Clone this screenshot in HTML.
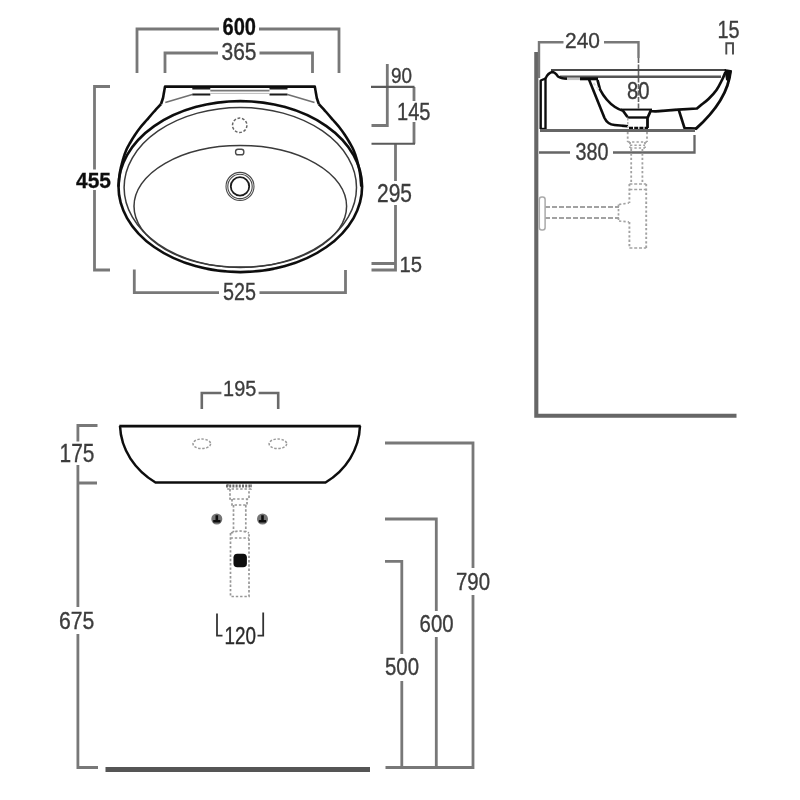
<!DOCTYPE html>
<html><head><meta charset="utf-8"><title>Washbasin technical drawing</title>
<style>
html,body{margin:0;padding:0;background:#fff;}
svg{display:block;font-family:"Liberation Sans",sans-serif;}
</style></head>
<body>
<svg width="800" height="800" viewBox="0 0 800 800">
<defs><filter id="soft" x="-2%" y="-2%" width="104%" height="104%"><feGaussianBlur stdDeviation="0.75"/></filter></defs>
<rect width="800" height="800" fill="#fff"/>
<g filter="url(#soft)">
<!-- plan view dimensions -->
<path d="M137,73 V29 H219 M259,29 H339 V73" stroke="#787878" stroke-width="2.8" fill="none" />
<text transform="translate(222.50,35.26) scale(0.8378,1)" font-size="23.94" font-weight="bold" fill="#111" stroke="#111" stroke-width="0.3">600</text>
<path d="M165,73 V53 H218 M259.5,53 H312.5 V73" stroke="#787878" stroke-width="2.8" fill="none" />
<text transform="translate(221.50,60.26) scale(0.8753,1)" font-size="23.94" fill="#3c3c3c" stroke="#3c3c3c" stroke-width="0.35">365</text>
<path d="M110,86.5 H94.5 V169.5 M94.5,190 V270 H110" stroke="#787878" stroke-width="2.8" fill="none" />
<text transform="translate(76.00,187.77) scale(0.9169,1)" font-size="22.86" font-weight="bold" fill="#111" stroke="#111" stroke-width="0.3">455</text>
<path d="M134.3,269.5 V292.7 H219 M259.5,292.7 H345.5 V270" stroke="#787878" stroke-width="2.8" fill="none" />
<text transform="translate(223.00,299.76) scale(0.8253,1)" font-size="23.94" fill="#3c3c3c" stroke="#3c3c3c" stroke-width="0.35">525</text>
<path d="M387.3,64 V125.5 H371.5 M414,87 V101 M414,122 V143.75 M395.5,143.75 V181 M395.5,205 V271.5 M371.5,263.5 H395.5 M371.5,270 H395.5" stroke="#787878" stroke-width="2.8" fill="none" />
<path d="M371,86.8 H414.5 M371.5,143.75 H415" stroke="#5a5a5a" stroke-width="2.2" fill="none" />
<text transform="translate(391.00,83.27) scale(0.8395,1)" font-size="22.54" fill="#3c3c3c" stroke="#3c3c3c" stroke-width="0.35">90</text>
<text transform="translate(397.00,120.26) scale(0.8260,1)" font-size="24.29" fill="#3c3c3c" stroke="#3c3c3c" stroke-width="0.35">145</text>
<text transform="translate(377.00,202.25) scale(0.8267,1)" font-size="25.35" fill="#3c3c3c" stroke="#3c3c3c" stroke-width="0.35">295</text>
<text transform="translate(399.50,272.27) scale(0.8868,1)" font-size="22.86" fill="#3c3c3c" stroke="#3c3c3c" stroke-width="0.35">15</text>
<!-- plan view basin -->
<ellipse cx="240.3" cy="186.6" rx="121.8" ry="85.5" stroke="#0c0c0c" stroke-width="2.6" fill="none" />
<path d="M161.00,104.00 C159.78,105.33 156.07,109.33 153.70,112.00 C151.32,114.67 148.98,117.42 146.75,120.00 C144.52,122.58 142.28,125.00 140.30,127.50 C138.33,130.00 136.57,132.50 134.90,135.00 C133.23,137.50 131.73,140.00 130.30,142.50 C128.87,145.00 127.53,147.12 126.30,150.00 C125.07,152.88 123.97,156.00 122.90,159.75 C121.83,163.50 120.63,168.03 119.90,172.50 C119.17,176.97 118.73,184.25 118.50,186.60" stroke="#0c0c0c" stroke-width="2.6" fill="none" />
<path d="M318.80,104.00 C320.02,105.33 323.73,109.33 326.10,112.00 C328.48,114.67 330.82,117.42 333.05,120.00 C335.28,122.58 337.52,125.00 339.50,127.50 C341.48,130.00 343.23,132.50 344.90,135.00 C346.57,137.50 348.07,140.00 349.50,142.50 C350.93,145.00 352.27,147.12 353.50,150.00 C354.73,152.88 355.83,156.00 356.90,159.75 C357.97,163.50 359.17,168.03 359.90,172.50 C360.63,176.97 361.07,184.25 361.30,186.60" stroke="#0c0c0c" stroke-width="2.6" fill="none" />
<path d="M161,104 L163,98 L165,86.6 H314.8 L316.8,98 L318.8,104" stroke="#0c0c0c" stroke-width="2.6" fill="none" stroke-linejoin="round"/>
<path d="M165.3,102.5 L192.3,94.5 M287.5,94.5 L314.5,102.5" stroke="#707070" stroke-width="1.6" fill="none" />
<path d="M192.3,94.5 H210.3 M269.5,94.5 H287.5" stroke="#1a1a1a" stroke-width="2.2" fill="none" />
<path d="M192.3,88.7 H210.3 M269.5,88.7 H287.5" stroke="#1a1a1a" stroke-width="1.6" fill="none" />
<path d="M210.3,90.6 H269.5" stroke="#777" stroke-width="1.8" fill="none" />
<path d="M210.3,93.4 H269.5" stroke="#bbb" stroke-width="1.0" fill="none" />
<ellipse cx="240.3" cy="187.5" rx="116.2" ry="80" stroke="#3a3a3a" stroke-width="1.5" fill="none" />
<ellipse cx="240.3" cy="206.3" rx="106.3" ry="60.8" stroke="#3a3a3a" stroke-width="1.5" fill="none" />
<circle cx="239.70000000000002" cy="125.3" r="7.2" stroke="#666" stroke-width="1.5" fill="none" stroke-dasharray="2.8 1.7"/>
<rect x="235.60000000000002" y="149.2" width="8.2" height="5.6" rx="2.4" stroke="#4a4a4a" stroke-width="1.4" fill="none"/>
<circle cx="240.0" cy="186.4" r="14" stroke="#4a4a4a" stroke-width="1.1" fill="none"/>
<circle cx="240.0" cy="186.4" r="12.2" stroke="#4a4a4a" stroke-width="1.1" fill="none"/>
<circle cx="240.0" cy="186.4" r="9.2" stroke="#1a1a1a" stroke-width="1.8" fill="none"/>
<!-- section view -->
<path d="M536.3,52 V415.8 H736.5" stroke="#666" stroke-width="4.1" fill="none" stroke-linejoin="miter"/>
<path d="M539,78 V42.3 H563.5 M604,42.3 H638.5 V58" stroke="#787878" stroke-width="2.4" fill="none" />
<path d="M638.5,58 V109" stroke="#666" stroke-width="1.6" fill="none" stroke-dasharray="5 1.5"/>
<text transform="translate(565.00,48.27) scale(0.9300,1)" font-size="22.54" fill="#3c3c3c" stroke="#3c3c3c" stroke-width="0.35">240</text>
<path d="M539,152.5 H570 M613,152.5 H694.5 V135" stroke="#666" stroke-width="2.3" fill="none" />
<text transform="translate(575.50,159.76) scale(0.8253,1)" font-size="23.94" fill="#3c3c3c" stroke="#3c3c3c" stroke-width="0.35">380</text>
<text transform="translate(627.00,99.26) scale(0.8466,1)" font-size="23.94" fill="#3c3c3c" stroke="#3c3c3c" stroke-width="0.35">80</text>
<text transform="translate(717.50,37.76) scale(0.8408,1)" font-size="23.57" fill="#3c3c3c" stroke="#3c3c3c" stroke-width="0.35">15</text>
<path d="M726.3,54.5 V43.3 H733 V54.5" stroke="#4a4a4a" stroke-width="1.9" fill="none" />
<path d="M551,70 H726" stroke="#4a4a4a" stroke-width="2.0" fill="none" />
<path d="M560,76.7 H721" stroke="#555" stroke-width="2.4" fill="none" />
<path d="M540.7,129 V80.5 L545.5,78.5 V129" stroke="#0c0c0c" stroke-width="2.4" fill="none" stroke-linejoin="round"/>
<path d="M540,129 H546" stroke="#0c0c0c" stroke-width="2.4" fill="none" />
<path d="M545.5,78.5 Q548,73 552,72 Q555,72 558,76.5 Q561,78.6 567,78.8" stroke="#0c0c0c" stroke-width="2.4" fill="none" />
<path d="M567,78.8 H580" stroke="#c4c4c4" stroke-width="2.6" fill="none" />
<path d="M580,78.8 H598" stroke="#0c0c0c" stroke-width="3.0" fill="none" />
<path d="M589,79.5 L604.5,118 Q607.5,124.3 614.5,125 L628,126.3" stroke="#0c0c0c" stroke-width="2.6" fill="none" stroke-linejoin="round"/>
<path d="M597.5,80 L600,89.5 Q606,101 615,107 Q619,109.6 623,110.8 L627.5,117" stroke="#0c0c0c" stroke-width="2.7" fill="none" stroke-linejoin="round"/>
<path d="M593.5,83 L600,91" stroke="#ddd" stroke-width="2.0" fill="none" stroke-dasharray="3 2"/>
<path d="M621,109.6 H652" stroke="#0c0c0c" stroke-width="2.0" fill="none" />
<path d="M627.3,117.5 H647.5" stroke="#0c0c0c" stroke-width="2.4" fill="none" />
<path d="M651,110 L647.5,118 V128" stroke="#0c0c0c" stroke-width="2.8" fill="none" stroke-linejoin="round"/>
<path d="M629,128 H648" stroke="#0c0c0c" stroke-width="2.4" fill="none" stroke-dasharray="4 1.2"/>
<path d="M627.8,118 V128" stroke="#aaa" stroke-width="1.4" fill="none" stroke-dasharray="2.5 1.5"/>
<path d="M650,111 Q653,111.4 656,111.3 L678,109.6 L697,108.5  C697.58,108.00 698.58,107.08 700.50,105.50 C702.42,103.92 705.83,101.58 708.50,99.00 C711.17,96.42 714.25,93.17 716.50,90.00 C718.75,86.83 720.50,83.00 722.00,80.00 C723.50,77.00 724.92,73.33 725.50,72.00" stroke="#0c0c0c" stroke-width="2.7" fill="none" stroke-linejoin="round"/>
<path d="M730.5,71 Q728,100 695.5,129.2" stroke="#0c0c0c" stroke-width="2.9" fill="none" />
<path d="M724.5,69 L732,70.3 L729.3,82 L726,80 Z" fill="#0c0c0c"/>
<path d="M678.8,110 L684.5,128 L696,128.6" stroke="#0c0c0c" stroke-width="2.6" fill="none" stroke-linejoin="round"/>
<path d="M540,130.5 H695" stroke="#666" stroke-width="2.8" fill="none" />
<path d="M627.7,132 V142 M647,132 V142 M630,142 V148 M645,142 V148" stroke="#a2a2a2" stroke-width="1.8" fill="none" stroke-dasharray="2.3 2.1"/>
<path d="M627.7,142 H647 M630,145.2 H645 M630,148 H645" stroke="#a2a2a2" stroke-width="1.6" fill="none" stroke-dasharray="2.3 2.1"/>
<path d="M631.2,149 V184 M642.4,149 V184" stroke="#a2a2a2" stroke-width="1.8" fill="none" stroke-dasharray="2.3 2.1"/>
<path d="M629.4,184 V203 M629.4,222 V248 M646.2,184 V248" stroke="#a2a2a2" stroke-width="1.9" fill="none" stroke-dasharray="2.3 2.1"/>
<path d="M629.4,184 H646.2 M629.4,189.5 H646.2 M629.4,248 H646.2" stroke="#a2a2a2" stroke-width="1.7" fill="none" stroke-dasharray="3 1.8"/>
<path d="M545,207 H619 M545,218 H619" stroke="#a2a2a2" stroke-width="1.9" fill="none" stroke-dasharray="5 2"/>
<path d="M618.5,204.5 V221 M619,204.5 L629,203 M619,221 L629,222" stroke="#a2a2a2" stroke-width="1.7" fill="none" stroke-dasharray="2.3 2.1"/>
<rect x="539.3" y="197" width="5.8" height="33" rx="2.5" stroke="#aaa" stroke-width="1.5" fill="#fff"/>
<!-- front view -->
<path d="M201.8,409 V393 H221.4 M258.6,393 H278.2 V409" stroke="#6a6a6a" stroke-width="2.6" fill="none" />
<text transform="translate(223.10,396.27) scale(0.8659,1)" font-size="22.96" fill="#3c3c3c" stroke="#3c3c3c" stroke-width="0.35">195</text>
<path d="M119.3,426.2 H360.7" stroke="#0c0c0c" stroke-width="2.7" fill="none" />
<path d="M120,426 C121,450 135,470 155.5,482.5 H325.5 C346,470 359,450 360,426" stroke="#0c0c0c" stroke-width="2.5" fill="none" />
<ellipse cx="201.8" cy="443.8" rx="8.8" ry="4.8" stroke="#999" stroke-width="1.5" fill="none" stroke-dasharray="2.4 1.6"/>
<ellipse cx="277.9" cy="443.8" rx="8.8" ry="4.8" stroke="#999" stroke-width="1.5" fill="none" stroke-dasharray="2.4 1.6"/>
<path d="M228,484 V489 H251 V484 M230,489 V499 H249 V489 M232,499 V505 H247 V499" stroke="#979797" stroke-width="1.7" fill="none" stroke-dasharray="2.4 1.9"/>
<path d="M226,486 H252" stroke="#6a6a6a" stroke-width="3.2" fill="none" stroke-dasharray="2 1.2"/>
<path d="M233.5,505 V532 M245.8,505 V532" stroke="#979797" stroke-width="1.7" fill="none" stroke-dasharray="2.4 1.9"/>
<path d="M230.5,533 V596.5 H249 V533 M230.5,538 H249 M231,533 Q240,529 249,533" stroke="#979797" stroke-width="1.7" fill="none" stroke-dasharray="2.4 1.9"/>
<rect x="233.5" y="553.8" width="13.4" height="13.4" rx="3.8" fill="#0c0c0c"/>
<circle cx="216.8" cy="519" r="5.5" fill="#747474"/>
<path d="M216.8,515.3 V521 M213.20000000000002,521.3 H220.4" stroke="#0c0c0c" stroke-width="2.6" fill="none"/>
<circle cx="262.5" cy="519" r="5.5" fill="#747474"/>
<path d="M262.5,515.3 V521 M258.9,521.3 H266.1" stroke="#0c0c0c" stroke-width="2.6" fill="none"/>
<path d="M217,613.5 V635.6 H222.5 M263.2,612.5 V635.6 H257.5" stroke="#333" stroke-width="1.8" fill="none" />
<text transform="translate(224.50,644.37) scale(0.8166,1)" font-size="23.10" fill="#2a2a2a" stroke="#2a2a2a" stroke-width="0.35">120</text>
<path d="M97.5,425.5 H77.9 V441.5 M77.9,465 V607 M77.9,634 V767.5 H98 M77.9,483 H97" stroke="#787878" stroke-width="2.8" fill="none" />
<text transform="translate(59.60,462.05) scale(0.8359,1)" font-size="25.00" fill="#3c3c3c" stroke="#3c3c3c" stroke-width="0.35">175</text>
<text transform="translate(59.00,629.36) scale(0.8750,1)" font-size="24.23" fill="#3c3c3c" stroke="#3c3c3c" stroke-width="0.35">675</text>
<path d="M385,443 H473 V568 M473,595 V767.5 M385,519 H436.3 V611 M436.3,637 V767.5 M385,561.4 H401.8 V654 M401.8,681 V767.5 M385.5,767.5 H474.4" stroke="#787878" stroke-width="2.8" fill="none" />
<text transform="translate(456.00,589.97) scale(0.8708,1)" font-size="23.38" fill="#3c3c3c" stroke="#3c3c3c" stroke-width="0.35">790</text>
<text transform="translate(419.60,631.76) scale(0.8604,1)" font-size="23.66" fill="#3c3c3c" stroke="#3c3c3c" stroke-width="0.35">600</text>
<text transform="translate(385.00,674.76) scale(0.8503,1)" font-size="23.94" fill="#3c3c3c" stroke="#3c3c3c" stroke-width="0.35">500</text>
<path d="M105.5,769.5 H370" stroke="#555" stroke-width="5" fill="none" />
</g>
</svg>
</body></html>
